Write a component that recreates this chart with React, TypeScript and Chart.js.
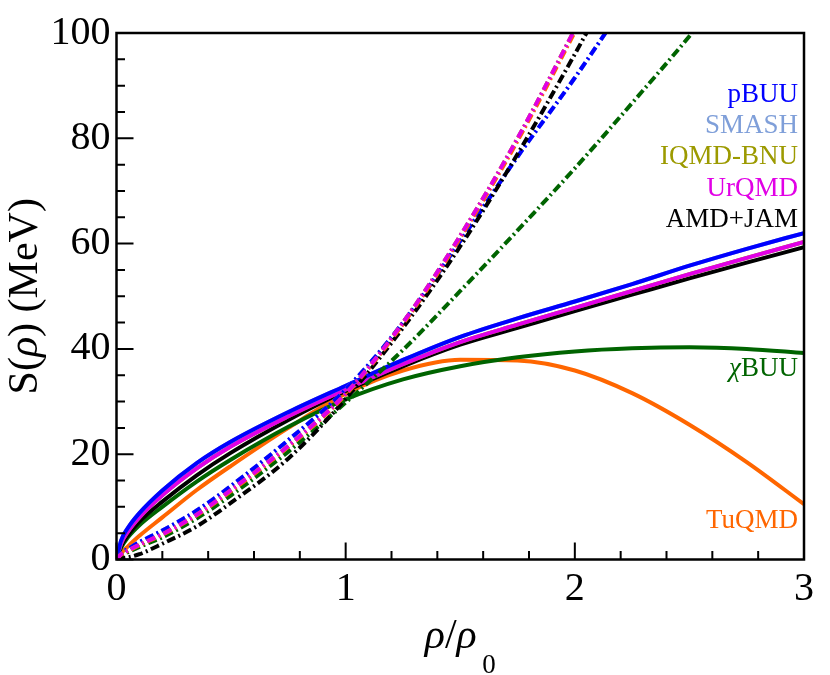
import { useEffect, useRef } from "react";
import { Chart, registerables } from "chart.js";

Chart.register(...registerables);

const SERIF = '"Liberation Serif", "Times New Roman", Times, serif';

// density grid rho/rho0
const RHO = [0, 0.02, 0.05, 0.1, 0.2, 0.35, 0.5, 0.75, 1, 1.25, 1.5, 1.75, 2, 2.25, 2.5, 2.75, 3];

// soft symmetry energies (solid lines)
const PBUU_SOFT = [0, 3.6, 6, 8.8, 13.1, 18.3, 22.4, 28, 33, 37.9, 42.3, 45.8, 49, 52.3, 55.8, 59, 62];
const SMASH_SOFT = PBUU_SOFT;
const URQMD_SOFT = [0, 3, 5.3, 8, 12.2, 17.3, 21.5, 27.2, 32.3, 37.1, 41.3, 44.6, 47.8, 51, 54.2, 57.3, 60.3];
const IQMD_SOFT = URQMD_SOFT;
const AMDJAM_SOFT = [0, 2.5, 4.6, 7.2, 11, 16, 20.3, 26.5, 32, 36.7, 40.8, 44, 47.2, 50.3, 53.4, 56.4, 59.3];
const CHIBUU_SOFT = [0, 2.2, 4.2, 6.5, 10, 14.8, 19, 25.2, 30.4, 34.2, 36.7, 38.4, 39.5, 40.1, 40.3, 40, 39.2];
const TUQMD_SOFT = [0, 1.2, 2.5, 4.5, 8, 13.2, 17.8, 25, 31.5, 35.9, 37.95, 37.8, 35.9, 31.6, 25.6, 18.5, 10.5];

// stiff symmetry energies (dash-dot lines)
const PBUU_STIFF = [0, 1.2, 2, 3.3, 5.5, 9.3, 14, 22.7, 32.3, 45, 60.5, 76.5, 91.5, 107.5, null, null, null];
const SMASH_STIFF = PBUU_STIFF;
const URQMD_STIFF = [0, 1, 1.7, 2.8, 4.8, 8.5, 13.2, 21.6, 31.5, 45, 61.5, 80, 100.7, 122, null, null, null];
const IQMD_STIFF = URQMD_STIFF;
const TUQMD_STIFF = [0, 0.9, 1.6, 2.7, 4.7, 8.4, 13, 21.4, 31.3, 44.7, 61.1, 79.5, 100.2, 121.5, null, null, null];
const AMDJAM_STIFF = [0, 0.2, 0.4, 1, 3, 6.3, 10.8, 19.2, 30.5, 44, 59.5, 77, 96, 116, null, null, null];
const CHIBUU_STIFF = [0, 0.8, 1.4, 2.4, 4.2, 7.8, 12.2, 20.5, 29.8, 39.8, 51, 62.5, 74.3, 86.7, 99.4, 113, null];

const C = {
  pbuu: "#0000ff",
  smash: "#7f9fd9",
  iqmd: "#9c9a00",
  urqmd: "#e100e6",
  amd: "#000000",
  chi: "#006400",
  tu: "#ff6600",
};

// model labels: text, colour, baseline in MeV units
const LABELS = [
  { text: "pBUU", color: C.pbuu, at: 86.8 },
  { text: "SMASH", color: C.smash, at: 81.1 },
  { text: "IQMD-BNU", color: C.iqmd, at: 75.1 },
  { text: "UrQMD", color: C.urqmd, at: 69.0 },
  { text: "AMD+JAM", color: C.amd, at: 63.2 },
  { text: "TuQMD", color: C.tu, at: 5.9 },
];

const pts = (ys: (number | null)[]) => RHO.map((x, i) => ({ x, y: ys[i] }));

const solid = (data: (number | null)[], color: string) => ({
  data: pts(data),
  borderColor: color,
  borderWidth: 4,
  pointRadius: 0,
  cubicInterpolationMode: "monotone" as const,
});

const dashdot = (data: (number | null)[], color: string) => ({
  ...solid(data, color),
  borderWidth: 4,
  borderDash: [9, 3.5, 2, 3.5],
});

function drawMixed(ctx: CanvasRenderingContext2D, parts: { t: string; font: string; dy?: number }[], x: number, y: number, align: "center" | "right") {
  let total = 0;
  for (const p of parts) {
    ctx.font = p.font;
    total += ctx.measureText(p.t).width;
  }
  let cx = align === "center" ? x - total / 2 : x - total;
  ctx.textAlign = "left";
  for (const p of parts) {
    ctx.font = p.font;
    ctx.fillText(p.t, cx, y + (p.dy || 0));
    cx += ctx.measureText(p.t).width;
  }
}

const framePlugin = {
  id: "frame",
  afterDraw(chart: Chart) {
    const { ctx, chartArea: a } = chart;
    const sx = chart.scales.x;
    const sy = chart.scales.y;
    ctx.save();
    ctx.strokeStyle = "#000";
    ctx.lineWidth = 2;
    ctx.beginPath();
    for (let i = 0; i <= 15; i++) {
      const px = sx.getPixelForValue(i * 0.2);
      const len = i % 5 === 0 ? 17 : 8.5;
      ctx.moveTo(px, a.bottom);
      ctx.lineTo(px, a.bottom - len);
    }
    for (let i = 0; i <= 20; i++) {
      const py = sy.getPixelForValue(i * 5);
      const len = i % 4 === 0 ? 17 : 8.5;
      ctx.moveTo(a.left, py);
      ctx.lineTo(a.left + len, py);
    }
    ctx.stroke();
    ctx.lineWidth = 2.5;
    ctx.strokeRect(a.left, a.top, a.width, a.height);

    ctx.textBaseline = "alphabetic";
    const right = a.right - 6;
    for (const l of LABELS) {
      ctx.fillStyle = l.color;
      drawMixed(ctx, [{ t: l.text, font: `27px ${SERIF}` }], right, sy.getPixelForValue(l.at), "right");
    }
    ctx.fillStyle = C.chi;
    drawMixed(
      ctx,
      [
        { t: "\u03c7", font: `italic 27px ${SERIF}` },
        { t: "BUU", font: `27px ${SERIF}` },
      ],
      right,
      sy.getPixelForValue(34.9),
      "right"
    );

    // axis titles
    ctx.fillStyle = "#000";
    drawMixed(
      ctx,
      [
        { t: "\u03c1", font: `italic 42px ${SERIF}` },
        { t: "/", font: `42px ${SERIF}` },
        { t: "\u03c1", font: `italic 42px ${SERIF}` },
        { t: " ", font: `22px ${SERIF}` },
        { t: "0", font: `27px ${SERIF}`, dy: 25 },
      ],
      (a.left + a.right) / 2,
      648,
      "center"
    );
    ctx.translate(37, (a.top + a.bottom) / 2);
    ctx.rotate(-Math.PI / 2);
    drawMixed(
      ctx,
      [
        { t: "S(", font: `42px ${SERIF}` },
        { t: "\u03c1", font: `italic 42px ${SERIF}` },
        { t: ") (MeV)", font: `42px ${SERIF}` },
      ],
      0,
      0,
      "center"
    );
    ctx.restore();
  },
};

export default function App() {
  const canvasRef = useRef<HTMLCanvasElement>(null);

  useEffect(() => {
    document.body.style.margin = "0";
    if (!canvasRef.current) return;

    const chart = new Chart(canvasRef.current, {
      type: "line",
      data: {
        datasets: [
          dashdot(URQMD_STIFF, C.urqmd),
          dashdot(TUQMD_STIFF, C.tu),
          dashdot(IQMD_STIFF, C.iqmd),
          dashdot(AMDJAM_STIFF, C.amd),
          dashdot(PBUU_STIFF, C.pbuu),
          dashdot(SMASH_STIFF, C.smash),
          dashdot(CHIBUU_STIFF, C.chi),
          solid(PBUU_SOFT, C.pbuu),
          solid(SMASH_SOFT, C.smash),
          solid(URQMD_SOFT, C.urqmd),
          solid(IQMD_SOFT, C.iqmd),
          solid(AMDJAM_SOFT, C.amd),
          solid(CHIBUU_SOFT, C.chi),
          solid(TUQMD_SOFT, C.tu),
        ],
      },
      options: {
        animation: false,
        responsive: true,
        maintainAspectRatio: false,
        layout: { padding: { top: 33, right: 26, left: 0, bottom: 0 } },
        plugins: { legend: { display: false }, tooltip: { enabled: false } },
        scales: {
          x: {
            type: "linear",
            min: 0,
            max: 3,
            grid: { display: false, drawTicks: false },
            border: { display: false },
            ticks: { stepSize: 1, color: "#000", font: { family: SERIF, size: 40 }, padding: 6 },
            afterFit: (s: any) => {
              s.height = 115.5;
            },
          },
          y: {
            min: 0,
            max: 100,
            grid: { display: false, drawTicks: false },
            border: { display: false },
            ticks: { stepSize: 20, color: "#000", font: { family: SERIF, size: 40 }, padding: 6 },
            afterFit: (s: any) => {
              s.width = 116.5;
            },
          },
        },
      },
      plugins: [framePlugin],
    });

    return () => chart.destroy();
  }, []);

  return (
    <div style={{ width: 830, height: 675, position: "relative", background: "#fff" }}>
      <canvas ref={canvasRef} />
    </div>
  );
}
